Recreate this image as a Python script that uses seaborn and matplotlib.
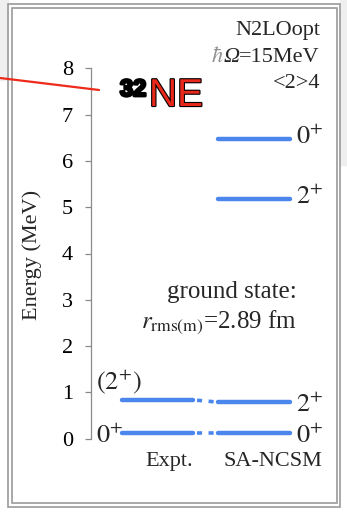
import matplotlib
matplotlib.use("Agg")
import matplotlib.pyplot as plt
import matplotlib.patheffects as pe
from matplotlib.patches import Rectangle
from matplotlib.lines import Line2D
import seaborn as sns
import pandas as pd

# level data (MeV)
columns = ["Expt.", "SA-NCSM"]
expt_levels = [0.12, 0.83]
expt_labels = ["$0^{+}$", "$(2^{+})$"]
ncsm_levels = [0.12, 0.79, 5.18, 6.48]
ncsm_labels = ["$0^{+}$", "$2^{+}$", "$2^{+}$", "$0^{+}$"]
links = [(0, 0), (1, 1)]   # expt index -> ncsm index
yticks = list(range(0, 9))

levels = pd.DataFrame({
    "column": [0] * len(expt_levels) + [1] * len(ncsm_levels),
    "energy": expt_levels + ncsm_levels,
    "label": expt_labels + ncsm_labels,
})

sns.set_theme(style="white")
plt.rcParams["font.family"] = ["Liberation Serif", "DejaVu Serif"]
plt.rcParams["mathtext.fontset"] = "stix"

W, H = 347, 512
fig = plt.figure(figsize=(W / 100, H / 100), dpi=100)

def px(x, y):
    return x / W, 1 - y / H

# background bits + double frame
fig.patches.append(Rectangle((0, 1 - 80 / H), 8 / W, 80 / H, transform=fig.transFigure,
                             color="#efefef", zorder=0))
fig.patches.append(Rectangle((340 / W, 1 - 165 / H), 7 / W, 165 / H, transform=fig.transFigure,
                             color="#efefef", zorder=0))
for (x0, y0, x1, y1) in [(8, 4, 340, 507), (12, 8, 337, 503)]:
    fig.patches.append(Rectangle(px(x0, y1), (x1 - x0) / W, (y1 - y0) / H,
                                 transform=fig.transFigure, fill=False, ec="#9a9a9a", lw=1.2))

ax = fig.add_axes([91 / W, (H - 438.7) / H, 246 / W, 370.4 / H])
ax.set_facecolor("none")
ax.set_ylim(0, 8)
ax.set_xlim(-0.689, 1.86)
sns.despine(ax=ax, bottom=True, right=True, top=True)
ax.spines["left"].set_color("#8a8a8a")
ax.spines["left"].set_linewidth(0.9)
ax.set_yticks(yticks)
ax.set_xticks([])
ax.tick_params(axis="y", left=True, direction="out", length=4, width=0.9, color="#8a8a8a",
               labelsize=16, pad=9, labelcolor="black")

blue = "#4a86ec"
hw = 0.37
for _, r in levels.iterrows():
    ax.hlines(r["energy"], r["column"] - hw, r["column"] + hw, color=blue, lw=3.2,
              capstyle="round", zorder=3)

for i, j in links:
    ax.plot([hw + 0.04, 1 - hw], [expt_levels[i], ncsm_levels[j]], color=blue, lw=2.6,
            dashes=(1.4, 1.8), zorder=2)

# level labels
fs = 16
lfs = 19
for e, lab in zip(ncsm_levels, ncsm_labels):
    dy = 0.1 if e > 3 else 0.0
    ax.text(1 + hw + 0.06, e + dy, lab, fontsize=lfs, ha="left", va="center_baseline")
ax.text(-hw + 0.02, expt_levels[0], expt_labels[0], fontsize=lfs, ha="right",
        va="center_baseline")
ax.text(-hw - 0.27, expt_levels[1] + 0.47, expt_labels[1], fontsize=lfs, ha="left",
        va="center_baseline")

# column names
ax.text(hw, -0.5, columns[0], fontsize=fs, ha="right", va="center", clip_on=False)
ax.text(1 - hw + 0.05, -0.5, columns[1], fontsize=fs, ha="left", va="center", clip_on=False)

fig.text(*px(32, 255), "Energy (MeV)", rotation=90, ha="center", va="center", fontsize=16)

# annotations
fig.text(*px(297, 298), "ground state:", ha="right", va="baseline", fontsize=18)
fig.text(*px(297, 328), r"$r_{\mathrm{rms(m)}}$=2.89 fm", ha="right", va="baseline", fontsize=18)

fig.text(*px(320, 35), "N2LOopt", ha="right", va="baseline", fontsize=16)
t = fig.text(*px(320, 62), "=15MeV", ha="right", va="baseline", fontsize=16)
fig.text(*px(320, 88), "<2>4", ha="right", va="baseline", fontsize=16)
fig.canvas.draw()
bb = t.get_window_extent()
t2 = fig.text(bb.x0 / W, 1 - 62 / H, "\u03a9", ha="right", va="baseline",
              fontsize=16, fontstyle="italic")
fig.canvas.draw()
bb2 = t2.get_window_extent()
fig.text(bb2.x0 / W, 1 - 62 / H, r"$\hbar$", ha="right", va="baseline",
         fontsize=16, color="#909090")

# red pointer line and nucleus name
fig.add_artist(Line2D([0, 99 / W], [1 - 78 / H, 1 - 90 / H], transform=fig.transFigure,
                      color="#ee2a1a", lw=1.6))
fig.text(*px(120, 96), "32", fontsize=17, fontweight="bold", family="Liberation Sans",
         color="black", ha="left", va="baseline",
         path_effects=[pe.withStroke(linewidth=2, foreground="black")])
fig.text(*px(149, 106), "NE", fontsize=28, family="Liberation Sans", color="#e8281a",
         ha="left", va="baseline",
         path_effects=[pe.withStroke(linewidth=1.6, foreground="black")])

fig.savefig("out.png", dpi=100)
